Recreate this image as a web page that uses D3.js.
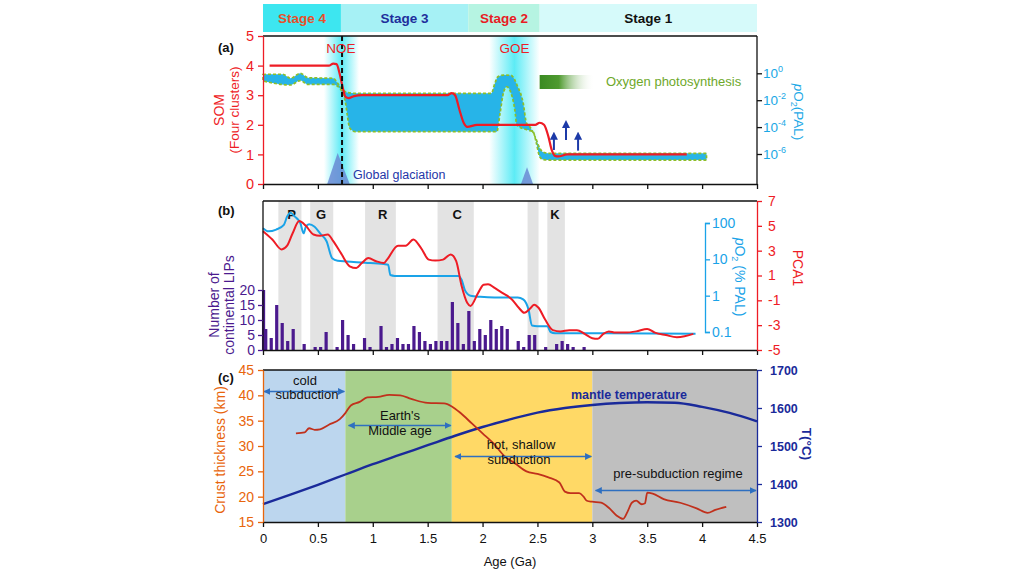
<!DOCTYPE html>
<html><head><meta charset="utf-8">
<script src="https://cdn.jsdelivr.net/npm/d3@7"></script>
<style>body{margin:0;background:#fff}svg{font-family:"Liberation Sans",Arial,Helvetica,sans-serif}</style>
</head><body><svg id="c" width="1024" height="574"></svg>
<script>
// ---------- data ----------
const ageTicks = [0,0.5,1,1.5,2,2.5,3,3.5,4,4.5];
const stageNames = ["Stage 4","Stage 3","Stage 2","Stage 1"];
const stageStart = [0,0.71,1.87,2.52];
const stageEnd = [0.71,1.87,2.52,4.5];
const stageFill = ["#3de6f0","#a6f1f5","#b6f4e2","#d6fafa"];
const stageText = ["#e8502a","#1f2f9c","#e81c24","#111111"];

// panel (a)
const somTicks = [0,1,2,3,4,5];
const somAge = [0.06,0.60,0.64,0.67,0.70,0.73,0.75,0.78,0.83,0.90,1.68,1.72,1.75,1.79,1.83,1.86,1.95,2.48,2.52,2.56,2.60,2.63,2.66,2.69,2.77,3.86];
const somVal = [4.0,4.0,4.07,4.05,3.7,3.2,2.95,2.9,2.97,3.0,3.0,3.07,3.0,2.5,2.05,1.93,2.0,2.0,2.07,2.0,1.6,1.15,0.95,0.93,1.0,1.0];
const o2aTicks = [0,-2,-4,-6]; // log10 PAL
const upAge = [0,0.04,0.18,0.25,0.34,0.41,0.64,0.68,0.73,0.77,0.85,2.08,2.11,2.14,2.19,2.26,2.32,2.37,2.40,2.43,2.48,2.52,2.55,2.60,4.04];
const upLog = [-0.09,-0.07,-0.07,-0.37,0.0,-0.33,-0.37,-0.74,-1.24,-1.43,-1.49,-1.49,-0.80,-0.25,-0.13,-0.16,-1.0,-2.21,-3.70,-3.97,-4.74,-5.55,-5.85,-5.95,-5.95];
const loAge = [0,0.25,0.34,0.41,0.64,0.70,0.75,0.77,0.79,0.84,2.13,2.16,2.19,2.22,2.27,2.30,2.31,2.41,2.46,2.49,2.52,2.55,2.60,4.04];
const loLog = [-0.57,-0.87,-0.54,-0.83,-0.83,-1.12,-2.11,-3.23,-4.07,-4.34,-4.34,-2.95,-1.46,-1.0,-1.74,-3.10,-3.84,-4.22,-4.34,-5.18,-6.2,-6.41,-6.45,-6.45];
const glowAge = [0.715,2.29];
const glowHalf = [0.16,0.23];
const eventNames = ["NOE","GOE"];
const eventAge = [0.71,2.29];
const noeLineAge = 0.72;
const glacStart = [0.585,2.35], glacPeak = [0.68,2.405], glacEnd = [0.79,2.46], glacHeight = [1.05,0.57];
const arrowAge = [2.65,2.76,2.87], arrowFrom = [-5.70,-4.96,-5.75], arrowTo = [-4.34,-3.47,-4.34];

// panel (b)
const bandStart = [0.14,0.43,0.93,1.59,2.41,2.59];
const bandEnd = [0.35,0.64,1.21,1.92,2.51,2.75];
const bandLabel = ["P","G","R","C","","K"];
const bandLabelAge = [0.26,0.53,1.09,1.77,0,2.66];
const pcaTicks = [-5,-3,-1,1,3,5,7];
const pcaAge = [0.0,0.085,0.17,0.22,0.27,0.33,0.39,0.46,0.52,0.59,0.64,0.71,0.79,0.85,0.90,0.96,1.03,1.10,1.13,1.23,1.30,1.37,1.44,1.51,1.57,1.64,1.71,1.76,1.81,1.86,1.89,1.96,2.01,2.05,2.11,2.18,2.27,2.33,2.38,2.44,2.47,2.51,2.57,2.64,2.71,2.79,2.86,2.93,3.0,3.05,3.1,3.15,3.21,3.3,3.4,3.5,3.57,3.67,3.77,3.84,3.92];
const pcaVal = [4.57,3.9,3.1,3.4,4.4,5.38,5.0,4.3,4.2,4.3,3.77,2.8,1.74,1.6,2.0,2.4,2.15,2.0,2.28,3.4,3.4,3.9,3.2,2.28,2.2,2.28,2.7,2.15,0.13,-1.2,-1.45,-0.4,0.26,0.3,0.0,-0.4,-0.95,-1.6,-2.0,-1.6,-1.35,-1.6,-2.55,-3.4,-3.5,-3.4,-3.4,-3.7,-4.05,-4.1,-3.7,-3.5,-3.6,-3.6,-3.5,-3.3,-3.6,-3.8,-3.97,-3.9,-3.7];
const o2bTicks = [0.1,1,10,100];
const o2bAge = [0.0,0.05,0.12,0.19,0.22,0.25,0.29,0.34,0.37,0.39,0.42,0.47,0.52,0.58,0.63,0.68,0.76,0.93,1.10,1.14,1.16,1.20,1.78,1.81,1.84,1.89,1.98,2.11,2.32,2.37,2.42,2.45,2.50,2.59,2.62,2.66,3.13,3.94];
const o2bVal = [72,59,66,89,150,190,150,100,52,79,93,79,52,31,10.7,9.1,8.7,8.1,7.4,7.1,3.7,3.5,3.5,2.7,1.4,1.0,0.93,0.89,0.89,0.79,0.40,0.15,0.145,0.145,0.10,0.093,0.093,0.089];
const lipTicks = [0,5,10,15,20];
const lipAge = [0.005,0.025,0.075,0.125,0.175,0.225,0.275,0.325,0.375,0.425,0.475,0.525,0.575,0.625,0.675,0.725,0.775,0.825,0.875,0.925,0.975,1.025,1.075,1.125,1.175,1.225,1.275,1.325,1.375,1.425,1.475,1.525,1.575,1.625,1.675,1.725,1.775,1.825,1.875,1.925,1.975,2.025,2.075,2.125,2.175,2.225,2.275,2.325,2.375,2.425,2.475,2.525,2.575,2.625,2.675,2.725,2.775,2.825,2.875,2.925];
const lipCount = [20,7,4,15,9,3,7,0,2,0,1,1,6,0,1,10,5,2,0,4,1,0,8,1,2,4,2,2,8,6,3,2,3,3,3,16,9,2,13,3,7,5,10,7,8,7,0,3,1,5,5,0,1,0,2,3,2,1,0,1];

// panel (c)
const regionStart = [0,0.75,1.72,3.0];
const regionEnd = [0.75,1.72,3.0,4.5];
const regionFill = ["#bcd6ee","#a8d08c","#ffd966","#bfbfbf"];
const crustTicks = [15,20,25,30,35,40,45];
const tTicks = [1300,1400,1500,1600,1700];
const crustAge = [0.30,0.38,0.42,0.47,0.52,0.60,0.70,0.75,0.80,0.88,0.95,1.05,1.15,1.25,1.35,1.50,1.65,1.72,1.80,1.90,2.00,2.10,2.20,2.30,2.40,2.50,2.60,2.70,2.75,2.80,2.88,2.92,2.95,3.00,3.08,3.15,3.22,3.28,3.32,3.36,3.40,3.45,3.48,3.50,3.55,3.65,3.80,3.95,4.05,4.12,4.22];
const crustVal = [32.5,32.7,33.5,33.2,33.3,34.2,35.3,36.5,38.0,38.7,39.6,39.7,40.1,40.0,39.3,38.5,38.4,37.8,36.5,34.5,32.5,30.5,28.0,26.5,25.0,24.5,23.8,22.8,21.0,20.7,20.7,20.0,19.2,19.0,18.8,17.8,16.3,15.6,17.0,18.8,19.2,18.5,18.7,20.8,20.6,19.5,18.8,17.7,16.8,17.4,18.0];
const mantleAge = [0,0.25,0.5,0.75,1.0,1.25,1.5,1.75,2.0,2.25,2.5,2.75,3.0,3.25,3.5,3.75,4.0,4.25,4.5];
const mantleT = [1347,1372,1398,1425,1452,1477,1502,1527,1550,1570,1588,1600,1608,1613,1615,1614,1603,1587,1565];

// ---------- drawing ----------
const svg = d3.select("#c");
const F = '"Liberation Sans",Arial,Helvetica,sans-serif';
const x = d3.scaleLinear().domain([0,4.5]).range([263,757]);
const L = 263, R = 757;
const defs = svg.append("defs");
const plain = d=>String(d);

function styleAxis(g, color, fs, bold){
  g.attr("font-family", F).attr("font-size", fs);
  g.selectAll("path,line").attr("stroke", color).attr("stroke-width", 1.3);
  g.selectAll("text").attr("fill", color).attr("font-weight", bold ? "bold" : null);
}
function vText(tx, ty, rot, str, color, fs, weight){
  return svg.append("text").attr("transform", `translate(${tx},${ty}) rotate(${rot})`)
    .attr("text-anchor","middle").attr("fill",color).attr("font-size",fs)
    .attr("font-weight",weight||null).text(str);
}

// stage bar
const stages = stageNames.map((n,i)=>({n, s:stageStart[i], e:stageEnd[i], f:stageFill[i], c:stageText[i]}));
svg.selectAll("rect.stage").data(stages).enter().append("rect")
  .attr("x",d=>x(d.s)).attr("y",4).attr("width",d=>x(d.e)-x(d.s)).attr("height",28).attr("fill",d=>d.f);
svg.selectAll("text.stage").data(stages).enter().append("text")
  .attr("x",d=>(x(d.s)+x(d.e))/2).attr("y",23).attr("text-anchor","middle")
  .attr("font-size",13.5).attr("font-weight","bold").attr("fill",d=>d.c).text(d=>d.n);

// ===== panel (a) =====
const yS = d3.scaleLinear().domain([0,5]).range([184,36]);
const yA = d3.scaleLinear().domain([-6,0]).range([154,73.3]);
eventNames.forEach((n,i)=>{
  const gid = "glow"+i;
  const gr = defs.append("linearGradient").attr("id",gid).attr("x1","0").attr("x2","1").attr("y1","0").attr("y2","0");
  gr.append("stop").attr("offset","0%").attr("stop-color","#40e8f4").attr("stop-opacity",0);
  gr.append("stop").attr("offset","50%").attr("stop-color","#40e8f4").attr("stop-opacity",0.85);
  gr.append("stop").attr("offset","100%").attr("stop-color","#40e8f4").attr("stop-opacity",0);
  svg.append("rect").attr("x",x(glowAge[i]-glowHalf[i])).attr("y",36)
    .attr("width",x(glowAge[i]+glowHalf[i])-x(glowAge[i]-glowHalf[i])).attr("height",148)
    .attr("fill",`url(#${gid})`);
});
glacPeak.forEach((p,i)=>{
  svg.append("path").attr("d",`M${x(glacStart[i])},${yS(0)}L${x(p)},${yS(glacHeight[i])}L${x(glacEnd[i])},${yS(0)}Z`)
    .attr("fill","#6a8ad4").attr("opacity",0.85);
});
const lg = d3.line().x(d=>x(d[0])).y(d=>yA(d[1])).curve(d3.curveMonotoneX);
const up = upAge.map((a,i)=>[a,upLog[i]]);
const lo = loAge.map((a,i)=>[a,loLog[i]]).reverse();
const bandD = lg(up) + lg(lo).replace(/^M/,"L") + "Z";
svg.append("path").attr("d",bandD).attr("fill","#27b4e8").attr("stroke","#8cbf2a")
  .attr("stroke-width",1.7).attr("stroke-dasharray","3,2");
const pg = defs.append("linearGradient").attr("id","photo");
pg.append("stop").attr("offset","0%").attr("stop-color","#3a8a22");
pg.append("stop").attr("offset","35%").attr("stop-color","#4f9a30");
pg.append("stop").attr("offset","100%").attr("stop-color","#ffffff").attr("stop-opacity",0);
svg.append("rect").attr("x",x(2.52)).attr("y",75).attr("width",x(3.02)-x(2.52)).attr("height",14).attr("fill","url(#photo)");
svg.append("text").attr("x",606).attr("y",86).attr("font-size",13).attr("fill","#6ea82a").text("Oxygen photosynthesis");
svg.append("path").datum(somAge.map((a,i)=>[a,somVal[i]]))
  .attr("d",d3.line().x(d=>x(d[0])).y(d=>yS(d[1])).curve(d3.curveMonotoneX))
  .attr("fill","none").attr("stroke","#ee1c25").attr("stroke-width",2.2);
svg.append("line").attr("x1",x(noeLineAge)).attr("x2",x(noeLineAge)).attr("y1",36).attr("y2",184)
  .attr("stroke","#111").attr("stroke-width",2).attr("stroke-dasharray","5,3");
defs.append("marker").attr("id","ah").attr("viewBox","0 0 10 10").attr("refX",5).attr("refY",5)
  .attr("markerWidth",4).attr("markerHeight",4).attr("orient","auto")
  .append("path").attr("d","M0,0L10,5L0,10Z").attr("fill","#1c3aa8");
arrowAge.forEach((a,i)=>{
  svg.append("line").attr("x1",x(a)).attr("x2",x(a)).attr("y1",yA(arrowFrom[i])).attr("y2",yA(arrowTo[i])+4)
    .attr("stroke","#1c3aa8").attr("stroke-width",2).attr("marker-end","url(#ah)");
});
eventNames.forEach((n,i)=>{
  svg.append("text").attr("x",x(eventAge[i])).attr("y",53).attr("text-anchor","middle")
    .attr("font-size",13.5).attr("fill","#ee1c25").text(n);
});
svg.append("text").attr("x",353).attr("y",179).attr("font-size",12.5).attr("fill","#2436a8").text("Global glaciation");
svg.append("line").attr("x1",L).attr("x2",R).attr("y1",36).attr("y2",36).attr("stroke","#111").attr("stroke-width",1.3);
svg.append("line").attr("x1",R).attr("x2",R).attr("y1",36).attr("y2",184).attr("stroke","#111").attr("stroke-width",1.3);
const axA = svg.append("g").attr("transform",`translate(0,184)`)
  .call(d3.axisBottom(x).tickValues(ageTicks).tickSize(5).tickSizeOuter(0).tickFormat(""));
styleAxis(axA,"#111",12);
const ayS = svg.append("g").attr("transform",`translate(${L},0)`)
  .call(d3.axisLeft(yS).tickValues(somTicks).tickSize(5).tickSizeOuter(0).tickFormat(plain).tickPadding(4));
styleAxis(ayS,"#ee1c25",14.5);
const ayA = svg.append("g").attr("transform",`translate(${R},0)`)
  .call(d3.axisRight(yA).tickValues(o2aTicks).tickSize(5).tickSizeOuter(0).tickPadding(1));
ayA.select(".domain").remove();
styleAxis(ayA,"#1aa8e6",13.5);
ayA.selectAll("line").attr("stroke","#111");
ayA.selectAll("text").each(function(d){
  const t = d3.select(this); t.text(null);
  t.append("tspan").text("10");
  t.append("tspan").attr("dy",-6).attr("font-size",9).text(String(d));
});
svg.append("text").attr("x",218).attr("y",52).attr("font-size",13).attr("font-weight","bold").attr("fill","#111").text("(a)");
vText(224,110,-90,"SOM","#ee1c25",14);
vText(239,110,-90,"(Four clusters)","#ee1c25",13.5);
{
  const t = svg.append("text").attr("transform","translate(794,112) rotate(90)").attr("text-anchor","middle")
    .attr("fill","#1aa8e6").attr("font-size",13.5);
  t.append("tspan").attr("font-style","italic").text("p");
  t.append("tspan").text("O");
  t.append("tspan").attr("dy",3).attr("font-size",9).text("2");
  t.append("tspan").attr("dy",-3).text("(PAL)");
}

// ===== panel (b) =====
const yP = d3.scaleLinear().domain([-5,7]).range([350,201]);
const yL = d3.scaleLinear().domain([0,20]).range([350,290]);
const yB = d3.scaleLog().domain([0.1,100]).range([332,223]);
const bands = bandStart.map((s,i)=>({s, e:bandEnd[i], l:bandLabel[i], la:bandLabelAge[i]}));
svg.selectAll("rect.band").data(bands).enter().append("rect")
  .attr("x",d=>x(d.s)).attr("y",201).attr("width",d=>x(d.e)-x(d.s)).attr("height",149).attr("fill","#e3e3e3");
svg.selectAll("text.band").data(bands.filter(d=>d.l)).enter().append("text")
  .attr("x",d=>x(d.la)).attr("y",219).attr("text-anchor","middle").attr("font-size",13).attr("font-weight","bold")
  .attr("fill","#111").text(d=>d.l);
svg.selectAll("rect.lip").data(lipAge.map((a,i)=>({a,c:lipCount[i]})).filter(d=>d.c>0)).enter().append("rect")
  .attr("x",d=>x(d.a)-1.6).attr("width",3.2).attr("y",d=>yL(d.c)).attr("height",d=>yL(0)-yL(d.c)).attr("fill","#4b1a8e");
svg.append("path").datum(o2bAge.map((a,i)=>[a,o2bVal[i]]))
  .attr("d",d3.line().x(d=>x(d[0])).y(d=>yB(d[1])).curve(d3.curveMonotoneX))
  .attr("fill","none").attr("stroke","#1aa3e8").attr("stroke-width",2);
svg.append("path").datum(pcaAge.map((a,i)=>[a,pcaVal[i]]))
  .attr("d",d3.line().x(d=>x(d[0])).y(d=>yP(d[1])).curve(d3.curveMonotoneX))
  .attr("fill","none").attr("stroke","#ee1c25").attr("stroke-width",2);
svg.append("line").attr("x1",L).attr("x2",R).attr("y1",201).attr("y2",201).attr("stroke","#111").attr("stroke-width",1.3);
svg.append("line").attr("x1",L).attr("x2",L).attr("y1",201).attr("y2",350).attr("stroke","#111").attr("stroke-width",1.3);
const axB = svg.append("g").attr("transform",`translate(0,350)`)
  .call(d3.axisBottom(x).tickValues(ageTicks).tickSize(5).tickSizeOuter(0).tickFormat(""));
styleAxis(axB,"#111",12);
const ayL = svg.append("g").attr("transform",`translate(${L},0)`)
  .call(d3.axisLeft(yL).tickValues(lipTicks).tickSize(5).tickSizeOuter(0).tickPadding(3).tickFormat(plain));
ayL.select(".domain").remove();
styleAxis(ayL,"#4b1a8e",14);
const ayP = svg.append("g").attr("transform",`translate(${R},0)`)
  .call(d3.axisRight(yP).tickValues(pcaTicks).tickSize(5).tickSizeOuter(0).tickPadding(6).tickFormat(plain));
styleAxis(ayP,"#ee1c25",14);
const ayB = svg.append("g").attr("transform",`translate(705,0)`)
  .call(d3.axisRight(yB).tickValues(o2bTicks).tickSize(5).tickSizeOuter(5).tickPadding(2).tickFormat(plain));
styleAxis(ayB,"#1aa3e8",14);
svg.append("text").attr("x",218).attr("y",215).attr("font-size",13).attr("font-weight","bold").attr("fill","#111").text("(b)");
vText(219,305,-90,"Number of","#4b1a8e",14);
vText(234,305,-90,"continental  LIPs","#4b1a8e",14);
{
  const t = svg.append("text").attr("transform","translate(735,277) rotate(90)").attr("text-anchor","middle")
    .attr("fill","#1aa3e8").attr("font-size",14);
  t.append("tspan").attr("font-style","italic").text("p");
  t.append("tspan").text("O");
  t.append("tspan").attr("dy",3).attr("font-size",9).text("2");
  t.append("tspan").attr("dy",-3).text(" (% PAL)");
}
vText(793,268,90,"PCA1","#ee1c25",14);

// ===== panel (c) =====
const yC = d3.scaleLinear().domain([15,45]).range([522,370]);
const yT = d3.scaleLinear().domain([1300,1700]).range([522,370]);
svg.selectAll("rect.reg").data(regionStart.map((s,i)=>({s,e:regionEnd[i],f:regionFill[i]}))).enter().append("rect")
  .attr("x",d=>x(d.s)).attr("y",370).attr("width",d=>x(d.e)-x(d.s)).attr("height",152).attr("fill",d=>d.f);
svg.append("path").datum(mantleAge.map((a,i)=>[a,mantleT[i]]))
  .attr("d",d3.line().x(d=>x(d[0])).y(d=>yT(d[1])).curve(d3.curveMonotoneX))
  .attr("fill","none").attr("stroke","#1a2a9a").attr("stroke-width",2.4);
svg.append("path").datum(crustAge.map((a,i)=>[a,crustVal[i]]))
  .attr("d",d3.line().x(d=>x(d[0])).y(d=>yC(d[1])).curve(d3.curveMonotoneX))
  .attr("fill","none").attr("stroke","#c0301c").attr("stroke-width",1.8);
defs.append("marker").attr("id","ac").attr("viewBox","0 0 10 10").attr("refX",9).attr("refY",5)
  .attr("markerWidth",7).attr("markerHeight",7).attr("orient","auto-start-reverse").attr("markerUnits","userSpaceOnUse")
  .append("path").attr("d","M0,0L10,5L0,10Z").attr("fill","#2e6fc0");
const regArrows = [[0,0.75,391.5],[0.77,1.72,425.5],[1.74,3.0,456.5],[3.02,4.5,490.5]];
regArrows.forEach(r=>{
  svg.append("line").attr("x1",x(r[0])+1).attr("x2",x(r[1])-1).attr("y1",r[2]).attr("y2",r[2])
    .attr("stroke","#2e6fc0").attr("stroke-width",1.6).attr("marker-start","url(#ac)").attr("marker-end","url(#ac)");
});
const notes = [["cold",305,385],["subduction",307,399],["Earth's",400,420],["Middle age",400,435],
  ["hot, shallow",521,449],["subduction",519,464],["pre-subduction regime",678,478]];
notes.forEach(n=>svg.append("text").attr("x",n[1]).attr("y",n[2]).attr("text-anchor","middle")
  .attr("font-size",13).attr("fill","#111").text(n[0]));
svg.append("text").attr("x",629).attr("y",399).attr("text-anchor","middle").attr("font-size",12.5)
  .attr("font-weight","bold").attr("fill","#1a2a9a").text("mantle temperature");
svg.append("line").attr("x1",L).attr("x2",R).attr("y1",370).attr("y2",370).attr("stroke","#111").attr("stroke-width",1.3);
const axC = svg.append("g").attr("transform",`translate(0,522)`)
  .call(d3.axisBottom(x).tickValues(ageTicks).tickSize(5).tickSizeOuter(0).tickPadding(7).tickFormat(plain));
styleAxis(axC,"#111",13);
const ayC = svg.append("g").attr("transform",`translate(${L},0)`)
  .call(d3.axisLeft(yC).tickValues(crustTicks).tickSize(5).tickSizeOuter(0).tickPadding(4).tickFormat(plain));
styleAxis(ayC,"#e8650c",14);
const ayT = svg.append("g").attr("transform",`translate(${R},0)`)
  .call(d3.axisRight(yT).tickValues(tTicks).tickSize(5).tickSizeOuter(0).tickPadding(8).tickFormat(plain));
styleAxis(ayT,"#1a2a9a",12.5,true);
svg.append("text").attr("x",218).attr("y",382).attr("font-size",13).attr("font-weight","bold").attr("fill","#111").text("(c)");
vText(225,450,-90,"Crust thickness (km)","#e8650c",14);
vText(802,444,90,"T(°C)","#1a2a9a",13.5,"bold");
svg.append("text").attr("x",510).attr("y",566).attr("text-anchor","middle").attr("font-size",13).attr("fill","#111").text("Age (Ga)");
</script></body></html>
